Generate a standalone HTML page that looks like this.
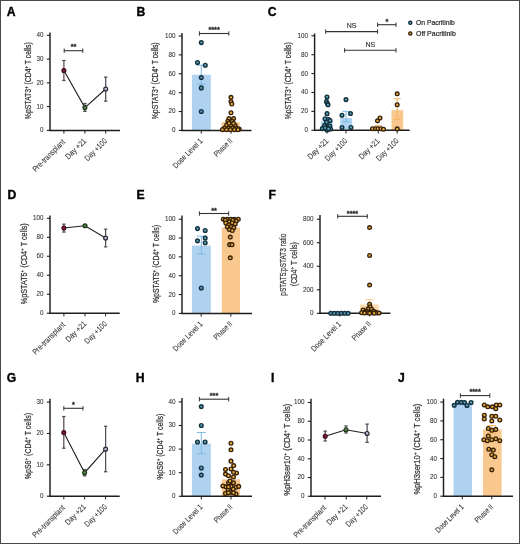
<!DOCTYPE html>
<html><head><meta charset="utf-8"><style>
html,body{margin:0;padding:0;background:#fff;}
svg{display:block;font-family:"Liberation Sans", sans-serif;will-change:transform;}
</style></head><body>
<svg width="520" height="544" viewBox="0 0 520 544">
<rect x="0.5" y="0.5" width="519" height="543" fill="#fff" stroke="#4a4a4a" stroke-width="1"/>
<text x="6.8" y="15.7" font-size="12.2" font-weight="bold" fill="#000" stroke="#000" stroke-width="0.35">A</text>
<text x="136.6" y="15.7" font-size="12.2" font-weight="bold" fill="#000" stroke="#000" stroke-width="0.35">B</text>
<text x="267.8" y="15.8" font-size="12.2" font-weight="bold" fill="#000" stroke="#000" stroke-width="0.35">C</text>
<text x="7.6" y="198.8" font-size="12.2" font-weight="bold" fill="#000" stroke="#000" stroke-width="0.35">D</text>
<text x="136.4" y="198.8" font-size="12.2" font-weight="bold" fill="#000" stroke="#000" stroke-width="0.35">E</text>
<text x="268.6" y="198.8" font-size="12.2" font-weight="bold" fill="#000" stroke="#000" stroke-width="0.35">F</text>
<text x="6.8" y="382" font-size="12.2" font-weight="bold" fill="#000" stroke="#000" stroke-width="0.35">G</text>
<text x="135.8" y="382" font-size="12.2" font-weight="bold" fill="#000" stroke="#000" stroke-width="0.35">H</text>
<text x="271.0" y="382" font-size="12.2" font-weight="bold" fill="#000" stroke="#000" stroke-width="0.35">I</text>
<text x="398.0" y="382" font-size="12.2" font-weight="bold" fill="#000" stroke="#000" stroke-width="0.35">J</text>
<line x1="46.80" y1="130.40" x2="50.00" y2="130.40" stroke="#1e1e1e" stroke-width="1.1" />
<text transform="translate(43.50,132.35) scale(0.80,1)" font-size="7.9" text-anchor="end" fill="#333333" stroke="#333" stroke-width="0.08">0</text>
<line x1="46.80" y1="106.62" x2="50.00" y2="106.62" stroke="#1e1e1e" stroke-width="1.1" />
<text transform="translate(43.50,108.58) scale(0.80,1)" font-size="7.9" text-anchor="end" fill="#333333" stroke="#333" stroke-width="0.08">10</text>
<line x1="46.80" y1="82.85" x2="50.00" y2="82.85" stroke="#1e1e1e" stroke-width="1.1" />
<text transform="translate(43.50,84.80) scale(0.80,1)" font-size="7.9" text-anchor="end" fill="#333333" stroke="#333" stroke-width="0.08">20</text>
<line x1="46.80" y1="59.07" x2="50.00" y2="59.07" stroke="#1e1e1e" stroke-width="1.1" />
<text transform="translate(43.50,61.02) scale(0.80,1)" font-size="7.9" text-anchor="end" fill="#333333" stroke="#333" stroke-width="0.08">30</text>
<line x1="46.80" y1="35.30" x2="50.00" y2="35.30" stroke="#1e1e1e" stroke-width="1.1" />
<text transform="translate(43.50,37.25) scale(0.80,1)" font-size="7.9" text-anchor="end" fill="#333333" stroke="#333" stroke-width="0.08">40</text>
<line x1="50.00" y1="32.50" x2="50.00" y2="131.00" stroke="#1e1e1e" stroke-width="1.45" />
<line x1="49.40" y1="130.40" x2="120.00" y2="130.40" stroke="#1e1e1e" stroke-width="1.45" />
<line x1="63.90" y1="130.40" x2="63.90" y2="133.60" stroke="#1e1e1e" stroke-width="1.0" />
<line x1="84.90" y1="130.40" x2="84.90" y2="133.60" stroke="#1e1e1e" stroke-width="1.0" />
<line x1="105.70" y1="130.40" x2="105.70" y2="133.60" stroke="#1e1e1e" stroke-width="1.0" />
<text transform="translate(31.20,80.70) rotate(-90) scale(0.8159,1)" font-size="8.4" text-anchor="middle" fill="#333333" stroke="#333" stroke-width="0.22">%pSTAT3<tspan dy="-2.8" font-size="5.4">+</tspan><tspan dy="2.8"> (CD4<tspan dy="-2.8" font-size="5.4">+</tspan><tspan dy="2.8"> T cells)</tspan></tspan></text>
<text transform="translate(65.50,142.50) rotate(-45) scale(0.840,1)" font-size="8.0" text-anchor="end" fill="#333333" stroke="#333" stroke-width="0.08">Pre-transplant</text>
<text transform="translate(86.80,141.50) rotate(-45) scale(0.862,1)" font-size="8.0" text-anchor="end" fill="#333333" stroke="#333" stroke-width="0.08">Day +21</text>
<text transform="translate(107.60,141.50) rotate(-45) scale(0.820,1)" font-size="8.0" text-anchor="end" fill="#333333" stroke="#333" stroke-width="0.08">Day +100</text>
<line x1="64.20" y1="50.70" x2="82.80" y2="50.70" stroke="#333" stroke-width="1.1" />
<line x1="64.20" y1="48.50" x2="64.20" y2="52.90" stroke="#333" stroke-width="1.0" />
<line x1="82.80" y1="48.50" x2="82.80" y2="52.90" stroke="#333" stroke-width="1.0" />
<text x="73.50" y="48.90"  font-size="7.3" text-anchor="middle" fill="#2a2a2a"  font-weight="bold" stroke="#2a2a2a" stroke-width="0.3">**</text>
<line x1="63.90" y1="80.47" x2="63.90" y2="60.50" stroke="#584a50" stroke-width="1.25" />
<line x1="62.20" y1="80.47" x2="65.60" y2="80.47" stroke="#584a50" stroke-width="1.25" />
<line x1="62.20" y1="60.50" x2="65.60" y2="60.50" stroke="#584a50" stroke-width="1.25" />
<line x1="84.90" y1="111.38" x2="84.90" y2="103.53" stroke="#4a504a" stroke-width="1.25" />
<line x1="83.20" y1="111.38" x2="86.60" y2="111.38" stroke="#4a504a" stroke-width="1.25" />
<line x1="83.20" y1="103.53" x2="86.60" y2="103.53" stroke="#4a504a" stroke-width="1.25" />
<line x1="105.70" y1="101.16" x2="105.70" y2="77.14" stroke="#4e4e56" stroke-width="1.25" />
<line x1="104.00" y1="101.16" x2="107.40" y2="101.16" stroke="#4e4e56" stroke-width="1.25" />
<line x1="104.00" y1="77.14" x2="107.40" y2="77.14" stroke="#4e4e56" stroke-width="1.25" />
<path d="M63.90,70.49 L84.90,107.58 L105.70,89.03" fill="none" stroke="#1e1e1e" stroke-width="1.1"/>
<circle cx="63.90" cy="70.49" r="1.95" fill="#80183a" stroke="#3c0c1c" stroke-width="1.2"/>
<circle cx="84.90" cy="107.58" r="1.95" fill="#558645" stroke="#1c321a" stroke-width="1.2"/>
<circle cx="105.70" cy="89.03" r="1.95" fill="#bcbccc" stroke="#262636" stroke-width="1.2"/>
<rect x="191.90" y="74.70" width="18.90" height="55.70" fill="#afd2f0"/>
<rect x="221.70" y="122.19" width="17.90" height="8.21" fill="#f9c88e"/>
<line x1="201.30" y1="84.14" x2="201.30" y2="65.26" stroke="#7ab8e4" stroke-width="1.0" />
<line x1="196.80" y1="84.14" x2="205.80" y2="84.14" stroke="#7ab8e4" stroke-width="1.0" />
<line x1="196.80" y1="65.26" x2="205.80" y2="65.26" stroke="#7ab8e4" stroke-width="1.0" />
<line x1="230.60" y1="125.21" x2="230.60" y2="119.07" stroke="#f4b260" stroke-width="1.0" />
<line x1="226.10" y1="125.21" x2="235.10" y2="125.21" stroke="#f4b260" stroke-width="1.0" />
<line x1="226.10" y1="119.07" x2="235.10" y2="119.07" stroke="#f4b260" stroke-width="1.0" />
<line x1="178.80" y1="130.40" x2="182.00" y2="130.40" stroke="#1e1e1e" stroke-width="1.1" />
<text transform="translate(175.50,132.35) scale(0.80,1)" font-size="7.9" text-anchor="end" fill="#333333" stroke="#333" stroke-width="0.08">0</text>
<line x1="178.80" y1="111.52" x2="182.00" y2="111.52" stroke="#1e1e1e" stroke-width="1.1" />
<text transform="translate(175.50,113.47) scale(0.80,1)" font-size="7.9" text-anchor="end" fill="#333333" stroke="#333" stroke-width="0.08">20</text>
<line x1="178.80" y1="92.64" x2="182.00" y2="92.64" stroke="#1e1e1e" stroke-width="1.1" />
<text transform="translate(175.50,94.59) scale(0.80,1)" font-size="7.9" text-anchor="end" fill="#333333" stroke="#333" stroke-width="0.08">40</text>
<line x1="178.80" y1="73.76" x2="182.00" y2="73.76" stroke="#1e1e1e" stroke-width="1.1" />
<text transform="translate(175.50,75.71) scale(0.80,1)" font-size="7.9" text-anchor="end" fill="#333333" stroke="#333" stroke-width="0.08">60</text>
<line x1="178.80" y1="54.88" x2="182.00" y2="54.88" stroke="#1e1e1e" stroke-width="1.1" />
<text transform="translate(175.50,56.83) scale(0.80,1)" font-size="7.9" text-anchor="end" fill="#333333" stroke="#333" stroke-width="0.08">80</text>
<line x1="178.80" y1="36.00" x2="182.00" y2="36.00" stroke="#1e1e1e" stroke-width="1.1" />
<text transform="translate(175.50,37.95) scale(0.80,1)" font-size="7.9" text-anchor="end" fill="#333333" stroke="#333" stroke-width="0.08">100</text>
<line x1="182.00" y1="33.00" x2="182.00" y2="131.00" stroke="#1e1e1e" stroke-width="1.45" />
<line x1="181.40" y1="130.40" x2="251.50" y2="130.40" stroke="#1e1e1e" stroke-width="1.45" />
<line x1="201.30" y1="130.40" x2="201.30" y2="133.60" stroke="#1e1e1e" stroke-width="1.0" />
<line x1="231.00" y1="130.40" x2="231.00" y2="133.60" stroke="#1e1e1e" stroke-width="1.0" />
<text transform="translate(158.00,80.80) rotate(-90) scale(0.8159,1)" font-size="8.4" text-anchor="middle" fill="#333333" stroke="#333" stroke-width="0.22">%pSTAT3<tspan dy="-2.8" font-size="5.4">+</tspan><tspan dy="2.8"> (CD4<tspan dy="-2.8" font-size="5.4">+</tspan><tspan dy="2.8"> T cells)</tspan></tspan></text>
<text transform="translate(203.20,141.50) rotate(-45) scale(0.823,1)" font-size="8.0" text-anchor="end" fill="#333333" stroke="#333" stroke-width="0.08">Dose Level 1</text>
<text transform="translate(232.90,141.50) rotate(-45) scale(0.765,1)" font-size="8.0" text-anchor="end" fill="#333333" stroke="#333" stroke-width="0.08">Phase II</text>
<line x1="199.40" y1="33.50" x2="228.80" y2="33.50" stroke="#333" stroke-width="1.1" />
<line x1="199.40" y1="31.30" x2="199.40" y2="35.70" stroke="#333" stroke-width="1.0" />
<line x1="228.80" y1="31.30" x2="228.80" y2="35.70" stroke="#333" stroke-width="1.0" />
<text x="214.10" y="32.40"  font-size="7.3" text-anchor="middle" fill="#2a2a2a"  font-weight="bold" stroke="#2a2a2a" stroke-width="0.3">****</text>
<circle cx="201.30" cy="42.61" r="1.85" fill="#5aa2bd" stroke="#14303c" stroke-width="1.4"/>
<circle cx="197.50" cy="62.43" r="1.85" fill="#5aa2bd" stroke="#14303c" stroke-width="1.4"/>
<circle cx="205.30" cy="65.26" r="1.85" fill="#5aa2bd" stroke="#14303c" stroke-width="1.4"/>
<circle cx="201.30" cy="77.54" r="1.85" fill="#5aa2bd" stroke="#14303c" stroke-width="1.4"/>
<circle cx="201.30" cy="87.92" r="1.85" fill="#5aa2bd" stroke="#14303c" stroke-width="1.4"/>
<circle cx="201.30" cy="111.52" r="1.85" fill="#5aa2bd" stroke="#14303c" stroke-width="1.4"/>
<circle cx="231.00" cy="97.36" r="1.85" fill="#e6ac3c" stroke="#35200a" stroke-width="1.35"/>
<circle cx="231.00" cy="101.61" r="1.85" fill="#e6ac3c" stroke="#35200a" stroke-width="1.35"/>
<circle cx="231.80" cy="103.97" r="1.85" fill="#e6ac3c" stroke="#35200a" stroke-width="1.35"/>
<circle cx="231.00" cy="112.75" r="1.85" fill="#e6ac3c" stroke="#35200a" stroke-width="1.35"/>
<circle cx="229.00" cy="118.60" r="1.85" fill="#e6ac3c" stroke="#35200a" stroke-width="1.35"/>
<circle cx="233.60" cy="118.60" r="1.85" fill="#e6ac3c" stroke="#35200a" stroke-width="1.35"/>
<circle cx="227.80" cy="121.34" r="1.85" fill="#e6ac3c" stroke="#35200a" stroke-width="1.35"/>
<circle cx="232.20" cy="121.34" r="1.85" fill="#e6ac3c" stroke="#35200a" stroke-width="1.35"/>
<circle cx="226.50" cy="125.21" r="1.85" fill="#e6ac3c" stroke="#35200a" stroke-width="1.35"/>
<circle cx="231.00" cy="125.21" r="1.85" fill="#e6ac3c" stroke="#35200a" stroke-width="1.35"/>
<circle cx="235.00" cy="125.21" r="1.85" fill="#e6ac3c" stroke="#35200a" stroke-width="1.35"/>
<circle cx="224.50" cy="128.04" r="1.85" fill="#e6ac3c" stroke="#35200a" stroke-width="1.35"/>
<circle cx="228.50" cy="128.04" r="1.85" fill="#e6ac3c" stroke="#35200a" stroke-width="1.35"/>
<circle cx="232.50" cy="128.04" r="1.85" fill="#e6ac3c" stroke="#35200a" stroke-width="1.35"/>
<circle cx="236.50" cy="128.04" r="1.85" fill="#e6ac3c" stroke="#35200a" stroke-width="1.35"/>
<circle cx="239.20" cy="128.98" r="1.85" fill="#e6ac3c" stroke="#35200a" stroke-width="1.35"/>
<circle cx="222.50" cy="129.64" r="1.85" fill="#e6ac3c" stroke="#35200a" stroke-width="1.35"/>
<circle cx="226.50" cy="129.64" r="1.85" fill="#e6ac3c" stroke="#35200a" stroke-width="1.35"/>
<circle cx="230.50" cy="129.64" r="1.85" fill="#e6ac3c" stroke="#35200a" stroke-width="1.35"/>
<circle cx="234.50" cy="129.64" r="1.85" fill="#e6ac3c" stroke="#35200a" stroke-width="1.35"/>
<circle cx="238.00" cy="129.64" r="1.85" fill="#e6ac3c" stroke="#35200a" stroke-width="1.35"/>
<circle cx="229.00" cy="123.32" r="1.85" fill="#e6ac3c" stroke="#35200a" stroke-width="1.35"/>
<circle cx="233.50" cy="123.32" r="1.85" fill="#e6ac3c" stroke="#35200a" stroke-width="1.35"/>
<rect x="321.00" y="121.32" width="11.60" height="8.98" fill="#afd2f0"/>
<rect x="340.30" y="118.02" width="11.80" height="12.28" fill="#afd2f0"/>
<rect x="372.00" y="127.47" width="12.50" height="2.83" fill="#f9c88e"/>
<rect x="391.50" y="110.17" width="11.70" height="20.13" fill="#f9c88e"/>
<line x1="346.00" y1="121.80" x2="346.00" y2="111.40" stroke="#7ab8e4" stroke-width="1.0" />
<line x1="342.50" y1="121.80" x2="349.50" y2="121.80" stroke="#7ab8e4" stroke-width="1.0" />
<line x1="342.50" y1="111.40" x2="349.50" y2="111.40" stroke="#7ab8e4" stroke-width="1.0" />
<line x1="327.00" y1="124.63" x2="327.00" y2="118.02" stroke="#7ab8e4" stroke-width="1.0" />
<line x1="323.50" y1="124.63" x2="330.50" y2="124.63" stroke="#7ab8e4" stroke-width="1.0" />
<line x1="323.50" y1="118.02" x2="330.50" y2="118.02" stroke="#7ab8e4" stroke-width="1.0" />
<line x1="397.20" y1="119.43" x2="397.20" y2="98.74" stroke="#f4b260" stroke-width="1.0" />
<line x1="393.70" y1="119.43" x2="400.70" y2="119.43" stroke="#f4b260" stroke-width="1.0" />
<line x1="393.70" y1="98.74" x2="400.70" y2="98.74" stroke="#f4b260" stroke-width="1.0" />
<line x1="378.30" y1="128.88" x2="378.30" y2="125.58" stroke="#f4b260" stroke-width="1.0" />
<line x1="374.80" y1="128.88" x2="381.80" y2="128.88" stroke="#f4b260" stroke-width="1.0" />
<line x1="374.80" y1="125.58" x2="381.80" y2="125.58" stroke="#f4b260" stroke-width="1.0" />
<line x1="311.40" y1="130.30" x2="314.60" y2="130.30" stroke="#1e1e1e" stroke-width="1.1" />
<text transform="translate(308.10,132.25) scale(0.80,1)" font-size="7.9" text-anchor="end" fill="#333333" stroke="#333" stroke-width="0.08">0</text>
<line x1="311.40" y1="111.40" x2="314.60" y2="111.40" stroke="#1e1e1e" stroke-width="1.1" />
<text transform="translate(308.10,113.35) scale(0.80,1)" font-size="7.9" text-anchor="end" fill="#333333" stroke="#333" stroke-width="0.08">20</text>
<line x1="311.40" y1="92.50" x2="314.60" y2="92.50" stroke="#1e1e1e" stroke-width="1.1" />
<text transform="translate(308.10,94.45) scale(0.80,1)" font-size="7.9" text-anchor="end" fill="#333333" stroke="#333" stroke-width="0.08">40</text>
<line x1="311.40" y1="73.60" x2="314.60" y2="73.60" stroke="#1e1e1e" stroke-width="1.1" />
<text transform="translate(308.10,75.55) scale(0.80,1)" font-size="7.9" text-anchor="end" fill="#333333" stroke="#333" stroke-width="0.08">60</text>
<line x1="311.40" y1="54.70" x2="314.60" y2="54.70" stroke="#1e1e1e" stroke-width="1.1" />
<text transform="translate(308.10,56.65) scale(0.80,1)" font-size="7.9" text-anchor="end" fill="#333333" stroke="#333" stroke-width="0.08">80</text>
<line x1="311.40" y1="35.80" x2="314.60" y2="35.80" stroke="#1e1e1e" stroke-width="1.1" />
<text transform="translate(308.10,37.75) scale(0.80,1)" font-size="7.9" text-anchor="end" fill="#333333" stroke="#333" stroke-width="0.08">100</text>
<line x1="314.60" y1="33.50" x2="314.60" y2="130.90" stroke="#1e1e1e" stroke-width="1.45" />
<line x1="314.00" y1="130.30" x2="409.70" y2="130.30" stroke="#1e1e1e" stroke-width="1.45" />
<line x1="327.00" y1="130.30" x2="327.00" y2="133.50" stroke="#1e1e1e" stroke-width="1.0" />
<line x1="346.00" y1="130.30" x2="346.00" y2="133.50" stroke="#1e1e1e" stroke-width="1.0" />
<line x1="378.30" y1="130.30" x2="378.30" y2="133.50" stroke="#1e1e1e" stroke-width="1.0" />
<line x1="397.20" y1="130.30" x2="397.20" y2="133.50" stroke="#1e1e1e" stroke-width="1.0" />
<text transform="translate(291.00,80.80) rotate(-90) scale(0.8191,1)" font-size="8.4" text-anchor="middle" fill="#333333" stroke="#333" stroke-width="0.22">%pSTAT3<tspan dy="-2.8" font-size="5.4">+</tspan><tspan dy="2.8"> (CD4<tspan dy="-2.8" font-size="5.4">+</tspan><tspan dy="2.8"> T cells)</tspan></tspan></text>
<text transform="translate(328.90,141.50) rotate(-45) scale(0.862,1)" font-size="8.0" text-anchor="end" fill="#333333" stroke="#333" stroke-width="0.08">Day +21</text>
<text transform="translate(347.90,141.50) rotate(-45) scale(0.820,1)" font-size="8.0" text-anchor="end" fill="#333333" stroke="#333" stroke-width="0.08">Day +100</text>
<text transform="translate(380.20,141.50) rotate(-45) scale(0.862,1)" font-size="8.0" text-anchor="end" fill="#333333" stroke="#333" stroke-width="0.08">Day +21</text>
<text transform="translate(399.10,141.50) rotate(-45) scale(0.820,1)" font-size="8.0" text-anchor="end" fill="#333333" stroke="#333" stroke-width="0.08">Day +100</text>
<line x1="325.70" y1="31.60" x2="377.60" y2="31.60" stroke="#333" stroke-width="1.1" />
<line x1="325.70" y1="29.40" x2="325.70" y2="33.80" stroke="#333" stroke-width="1.0" />
<line x1="377.60" y1="29.40" x2="377.60" y2="33.80" stroke="#333" stroke-width="1.0" />
<text x="351.65" y="28.00"  font-size="7" text-anchor="middle" fill="#333"   stroke="#333" stroke-width="0.15">NS</text>
<line x1="377.60" y1="24.70" x2="396.00" y2="24.70" stroke="#333" stroke-width="1.1" />
<line x1="377.60" y1="22.50" x2="377.60" y2="26.90" stroke="#333" stroke-width="1.0" />
<line x1="396.00" y1="22.50" x2="396.00" y2="26.90" stroke="#333" stroke-width="1.0" />
<text x="386.80" y="23.90"  font-size="7.3" text-anchor="middle" fill="#2a2a2a"  font-weight="bold" stroke="#2a2a2a" stroke-width="0.3">*</text>
<line x1="344.60" y1="50.30" x2="396.00" y2="50.30" stroke="#333" stroke-width="1.1" />
<line x1="344.60" y1="48.10" x2="344.60" y2="52.50" stroke="#333" stroke-width="1.0" />
<line x1="396.00" y1="48.10" x2="396.00" y2="52.50" stroke="#333" stroke-width="1.0" />
<text x="370.30" y="46.50"  font-size="7" text-anchor="middle" fill="#333"   stroke="#333" stroke-width="0.15">NS</text>
<circle cx="327.00" cy="96.94" r="1.85" fill="#5aa2bd" stroke="#14303c" stroke-width="1.4"/>
<circle cx="326.50" cy="101.67" r="1.85" fill="#5aa2bd" stroke="#14303c" stroke-width="1.4"/>
<circle cx="327.50" cy="103.46" r="1.85" fill="#5aa2bd" stroke="#14303c" stroke-width="1.4"/>
<circle cx="328.00" cy="104.79" r="1.85" fill="#5aa2bd" stroke="#14303c" stroke-width="1.4"/>
<circle cx="327.00" cy="113.67" r="1.85" fill="#5aa2bd" stroke="#14303c" stroke-width="1.4"/>
<circle cx="325.00" cy="118.77" r="1.85" fill="#5aa2bd" stroke="#14303c" stroke-width="1.4"/>
<circle cx="328.50" cy="119.43" r="1.85" fill="#5aa2bd" stroke="#14303c" stroke-width="1.4"/>
<circle cx="330.00" cy="120.66" r="1.85" fill="#5aa2bd" stroke="#14303c" stroke-width="1.4"/>
<circle cx="326.50" cy="122.27" r="1.85" fill="#5aa2bd" stroke="#14303c" stroke-width="1.4"/>
<circle cx="324.50" cy="125.58" r="1.85" fill="#5aa2bd" stroke="#14303c" stroke-width="1.4"/>
<circle cx="327.00" cy="127.09" r="1.85" fill="#5aa2bd" stroke="#14303c" stroke-width="1.4"/>
<circle cx="329.80" cy="126.05" r="1.85" fill="#5aa2bd" stroke="#14303c" stroke-width="1.4"/>
<circle cx="322.30" cy="128.60" r="1.85" fill="#5aa2bd" stroke="#14303c" stroke-width="1.4"/>
<circle cx="330.60" cy="128.98" r="1.85" fill="#5aa2bd" stroke="#14303c" stroke-width="1.4"/>
<circle cx="327.00" cy="130.02" r="1.85" fill="#5aa2bd" stroke="#14303c" stroke-width="1.4"/>
<circle cx="325.20" cy="127.94" r="1.85" fill="#5aa2bd" stroke="#14303c" stroke-width="1.4"/>
<circle cx="328.50" cy="128.88" r="1.85" fill="#5aa2bd" stroke="#14303c" stroke-width="1.4"/>
<circle cx="346.00" cy="99.59" r="1.85" fill="#5aa2bd" stroke="#14303c" stroke-width="1.4"/>
<circle cx="342.00" cy="115.18" r="1.85" fill="#5aa2bd" stroke="#14303c" stroke-width="1.4"/>
<circle cx="350.50" cy="113.57" r="1.85" fill="#5aa2bd" stroke="#14303c" stroke-width="1.4"/>
<circle cx="342.00" cy="127.47" r="1.85" fill="#5aa2bd" stroke="#14303c" stroke-width="1.4"/>
<circle cx="351.00" cy="127.47" r="1.85" fill="#5aa2bd" stroke="#14303c" stroke-width="1.4"/>
<circle cx="380.00" cy="118.02" r="1.85" fill="#e6ac3c" stroke="#35200a" stroke-width="1.35"/>
<circle cx="377.50" cy="120.85" r="1.85" fill="#e6ac3c" stroke="#35200a" stroke-width="1.35"/>
<circle cx="372.50" cy="128.69" r="1.85" fill="#e6ac3c" stroke="#35200a" stroke-width="1.35"/>
<circle cx="375.50" cy="128.69" r="1.85" fill="#e6ac3c" stroke="#35200a" stroke-width="1.35"/>
<circle cx="378.00" cy="128.69" r="1.85" fill="#e6ac3c" stroke="#35200a" stroke-width="1.35"/>
<circle cx="381.00" cy="128.69" r="1.85" fill="#e6ac3c" stroke="#35200a" stroke-width="1.35"/>
<circle cx="383.50" cy="129.17" r="1.85" fill="#e6ac3c" stroke="#35200a" stroke-width="1.35"/>
<circle cx="397.20" cy="93.82" r="1.85" fill="#e6ac3c" stroke="#35200a" stroke-width="1.35"/>
<circle cx="397.20" cy="104.79" r="1.85" fill="#e6ac3c" stroke="#35200a" stroke-width="1.35"/>
<circle cx="397.20" cy="128.88" r="1.85" fill="#e6ac3c" stroke="#35200a" stroke-width="1.35"/>
<circle cx="410.30" cy="22.80" r="1.55" fill="#5aa2bd" stroke="#14303c" stroke-width="1.4"/>
<circle cx="410.30" cy="33.40" r="1.55" fill="#e6ac3c" stroke="#35200a" stroke-width="1.4"/>
<text x="416.00" y="25.30"  font-size="7.4" text-anchor="start" fill="#262626" textLength="38.8" lengthAdjust="spacingAndGlyphs"  stroke="#262626" stroke-width="0.2">On Pacritinib</text>
<text x="416.00" y="35.60"  font-size="7.4" text-anchor="start" fill="#262626" textLength="39.8" lengthAdjust="spacingAndGlyphs"  stroke="#262626" stroke-width="0.2">Off Pacritinib</text>
<line x1="46.80" y1="313.20" x2="50.00" y2="313.20" stroke="#1e1e1e" stroke-width="1.1" />
<text transform="translate(43.50,315.15) scale(0.80,1)" font-size="7.9" text-anchor="end" fill="#333333" stroke="#333" stroke-width="0.08">0</text>
<line x1="46.80" y1="294.22" x2="50.00" y2="294.22" stroke="#1e1e1e" stroke-width="1.1" />
<text transform="translate(43.50,296.17) scale(0.80,1)" font-size="7.9" text-anchor="end" fill="#333333" stroke="#333" stroke-width="0.08">20</text>
<line x1="46.80" y1="275.24" x2="50.00" y2="275.24" stroke="#1e1e1e" stroke-width="1.1" />
<text transform="translate(43.50,277.19) scale(0.80,1)" font-size="7.9" text-anchor="end" fill="#333333" stroke="#333" stroke-width="0.08">40</text>
<line x1="46.80" y1="256.26" x2="50.00" y2="256.26" stroke="#1e1e1e" stroke-width="1.1" />
<text transform="translate(43.50,258.21) scale(0.80,1)" font-size="7.9" text-anchor="end" fill="#333333" stroke="#333" stroke-width="0.08">60</text>
<line x1="46.80" y1="237.28" x2="50.00" y2="237.28" stroke="#1e1e1e" stroke-width="1.1" />
<text transform="translate(43.50,239.23) scale(0.80,1)" font-size="7.9" text-anchor="end" fill="#333333" stroke="#333" stroke-width="0.08">80</text>
<line x1="46.80" y1="218.30" x2="50.00" y2="218.30" stroke="#1e1e1e" stroke-width="1.1" />
<text transform="translate(43.50,220.25) scale(0.80,1)" font-size="7.9" text-anchor="end" fill="#333333" stroke="#333" stroke-width="0.08">100</text>
<line x1="50.00" y1="215.40" x2="50.00" y2="313.80" stroke="#1e1e1e" stroke-width="1.45" />
<line x1="49.40" y1="313.20" x2="119.70" y2="313.20" stroke="#1e1e1e" stroke-width="1.45" />
<line x1="63.90" y1="313.20" x2="63.90" y2="316.40" stroke="#1e1e1e" stroke-width="1.0" />
<line x1="85.00" y1="313.20" x2="85.00" y2="316.40" stroke="#1e1e1e" stroke-width="1.0" />
<line x1="105.60" y1="313.20" x2="105.60" y2="316.40" stroke="#1e1e1e" stroke-width="1.0" />
<text transform="translate(26.50,263.70) rotate(-90) scale(0.8583,1)" font-size="8.4" text-anchor="middle" fill="#333333" stroke="#333" stroke-width="0.22">%pSTAT5<tspan dy="-2.8" font-size="5.4">+</tspan><tspan dy="2.8"> (CD4<tspan dy="-2.8" font-size="5.4">+</tspan><tspan dy="2.8"> T cells)</tspan></tspan></text>
<text transform="translate(65.50,325.30) rotate(-45) scale(0.840,1)" font-size="8.0" text-anchor="end" fill="#333333" stroke="#333" stroke-width="0.08">Pre-transplant</text>
<text transform="translate(86.90,324.30) rotate(-45) scale(0.862,1)" font-size="8.0" text-anchor="end" fill="#333333" stroke="#333" stroke-width="0.08">Day +21</text>
<text transform="translate(107.50,324.30) rotate(-45) scale(0.820,1)" font-size="8.0" text-anchor="end" fill="#333333" stroke="#333" stroke-width="0.08">Day +100</text>
<line x1="63.90" y1="232.06" x2="63.90" y2="224.18" stroke="#584a50" stroke-width="1.25" />
<line x1="62.20" y1="232.06" x2="65.60" y2="232.06" stroke="#584a50" stroke-width="1.25" />
<line x1="62.20" y1="224.18" x2="65.60" y2="224.18" stroke="#584a50" stroke-width="1.25" />
<line x1="85.00" y1="226.84" x2="85.00" y2="224.75" stroke="#4a504a" stroke-width="1.25" />
<line x1="83.30" y1="226.84" x2="86.70" y2="226.84" stroke="#4a504a" stroke-width="1.25" />
<line x1="83.30" y1="224.75" x2="86.70" y2="224.75" stroke="#4a504a" stroke-width="1.25" />
<line x1="105.60" y1="246.86" x2="105.60" y2="229.21" stroke="#4e4e56" stroke-width="1.25" />
<line x1="103.90" y1="246.86" x2="107.30" y2="246.86" stroke="#4e4e56" stroke-width="1.25" />
<line x1="103.90" y1="229.21" x2="107.30" y2="229.21" stroke="#4e4e56" stroke-width="1.25" />
<path d="M63.90,228.07 L85.00,225.80 L105.60,238.04" fill="none" stroke="#1e1e1e" stroke-width="1.1"/>
<circle cx="63.90" cy="228.07" r="1.95" fill="#80183a" stroke="#3c0c1c" stroke-width="1.2"/>
<circle cx="85.00" cy="225.80" r="1.95" fill="#558645" stroke="#1c321a" stroke-width="1.2"/>
<circle cx="105.60" cy="238.04" r="1.95" fill="#bcbccc" stroke="#262636" stroke-width="1.2"/>
<rect x="191.90" y="245.58" width="18.90" height="67.82" fill="#afd2f0"/>
<rect x="221.80" y="227.40" width="18.20" height="86.00" fill="#f9c88e"/>
<line x1="201.30" y1="254.05" x2="201.30" y2="236.16" stroke="#7ab8e4" stroke-width="1.0" />
<line x1="196.80" y1="254.05" x2="205.80" y2="254.05" stroke="#7ab8e4" stroke-width="1.0" />
<line x1="196.80" y1="236.16" x2="205.80" y2="236.16" stroke="#7ab8e4" stroke-width="1.0" />
<line x1="230.80" y1="229.56" x2="230.80" y2="224.85" stroke="#f4b260" stroke-width="1.0" />
<line x1="226.30" y1="229.56" x2="235.30" y2="229.56" stroke="#f4b260" stroke-width="1.0" />
<line x1="226.30" y1="224.85" x2="235.30" y2="224.85" stroke="#f4b260" stroke-width="1.0" />
<line x1="178.80" y1="313.40" x2="182.00" y2="313.40" stroke="#1e1e1e" stroke-width="1.1" />
<text transform="translate(175.50,315.35) scale(0.80,1)" font-size="7.9" text-anchor="end" fill="#333333" stroke="#333" stroke-width="0.08">0</text>
<line x1="178.80" y1="294.56" x2="182.00" y2="294.56" stroke="#1e1e1e" stroke-width="1.1" />
<text transform="translate(175.50,296.51) scale(0.80,1)" font-size="7.9" text-anchor="end" fill="#333333" stroke="#333" stroke-width="0.08">20</text>
<line x1="178.80" y1="275.72" x2="182.00" y2="275.72" stroke="#1e1e1e" stroke-width="1.1" />
<text transform="translate(175.50,277.67) scale(0.80,1)" font-size="7.9" text-anchor="end" fill="#333333" stroke="#333" stroke-width="0.08">40</text>
<line x1="178.80" y1="256.88" x2="182.00" y2="256.88" stroke="#1e1e1e" stroke-width="1.1" />
<text transform="translate(175.50,258.83) scale(0.80,1)" font-size="7.9" text-anchor="end" fill="#333333" stroke="#333" stroke-width="0.08">60</text>
<line x1="178.80" y1="238.04" x2="182.00" y2="238.04" stroke="#1e1e1e" stroke-width="1.1" />
<text transform="translate(175.50,239.99) scale(0.80,1)" font-size="7.9" text-anchor="end" fill="#333333" stroke="#333" stroke-width="0.08">80</text>
<line x1="178.80" y1="219.20" x2="182.00" y2="219.20" stroke="#1e1e1e" stroke-width="1.1" />
<text transform="translate(175.50,221.15) scale(0.80,1)" font-size="7.9" text-anchor="end" fill="#333333" stroke="#333" stroke-width="0.08">100</text>
<line x1="182.00" y1="215.40" x2="182.00" y2="314.00" stroke="#1e1e1e" stroke-width="1.45" />
<line x1="181.40" y1="313.40" x2="252.00" y2="313.40" stroke="#1e1e1e" stroke-width="1.45" />
<line x1="201.20" y1="313.40" x2="201.20" y2="316.60" stroke="#1e1e1e" stroke-width="1.0" />
<line x1="230.80" y1="313.40" x2="230.80" y2="316.60" stroke="#1e1e1e" stroke-width="1.0" />
<text transform="translate(159.20,264.00) rotate(-90) scale(0.8297,1)" font-size="8.4" text-anchor="middle" fill="#333333" stroke="#333" stroke-width="0.22">%pSTAT5<tspan dy="-2.8" font-size="5.4">+</tspan><tspan dy="2.8"> (CD4<tspan dy="-2.8" font-size="5.4">+</tspan><tspan dy="2.8"> T cells)</tspan></tspan></text>
<text transform="translate(203.20,324.50) rotate(-45) scale(0.823,1)" font-size="8.0" text-anchor="end" fill="#333333" stroke="#333" stroke-width="0.08">Dose Level 1</text>
<text transform="translate(232.70,324.50) rotate(-45) scale(0.765,1)" font-size="8.0" text-anchor="end" fill="#333333" stroke="#333" stroke-width="0.08">Phase II</text>
<line x1="199.40" y1="213.50" x2="228.70" y2="213.50" stroke="#333" stroke-width="1.1" />
<line x1="199.40" y1="211.30" x2="199.40" y2="215.70" stroke="#333" stroke-width="1.0" />
<line x1="228.70" y1="211.30" x2="228.70" y2="215.70" stroke="#333" stroke-width="1.0" />
<text x="214.05" y="212.60"  font-size="7.3" text-anchor="middle" fill="#2a2a2a"  font-weight="bold" stroke="#2a2a2a" stroke-width="0.3">**</text>
<circle cx="197.50" cy="228.62" r="1.85" fill="#5aa2bd" stroke="#14303c" stroke-width="1.4"/>
<circle cx="205.20" cy="230.50" r="1.85" fill="#5aa2bd" stroke="#14303c" stroke-width="1.4"/>
<circle cx="205.20" cy="238.04" r="1.85" fill="#5aa2bd" stroke="#14303c" stroke-width="1.4"/>
<circle cx="197.50" cy="240.87" r="1.85" fill="#5aa2bd" stroke="#14303c" stroke-width="1.4"/>
<circle cx="205.20" cy="242.75" r="1.85" fill="#5aa2bd" stroke="#14303c" stroke-width="1.4"/>
<circle cx="201.30" cy="287.97" r="1.85" fill="#5aa2bd" stroke="#14303c" stroke-width="1.4"/>
<circle cx="223.30" cy="219.20" r="1.85" fill="#e6ac3c" stroke="#35200a" stroke-width="1.35"/>
<circle cx="227.30" cy="219.20" r="1.85" fill="#e6ac3c" stroke="#35200a" stroke-width="1.35"/>
<circle cx="230.80" cy="219.20" r="1.85" fill="#e6ac3c" stroke="#35200a" stroke-width="1.35"/>
<circle cx="234.30" cy="219.20" r="1.85" fill="#e6ac3c" stroke="#35200a" stroke-width="1.35"/>
<circle cx="238.30" cy="219.20" r="1.85" fill="#e6ac3c" stroke="#35200a" stroke-width="1.35"/>
<circle cx="225.30" cy="220.14" r="1.85" fill="#e6ac3c" stroke="#35200a" stroke-width="1.35"/>
<circle cx="232.80" cy="220.14" r="1.85" fill="#e6ac3c" stroke="#35200a" stroke-width="1.35"/>
<circle cx="236.30" cy="221.08" r="1.85" fill="#e6ac3c" stroke="#35200a" stroke-width="1.35"/>
<circle cx="229.30" cy="222.03" r="1.85" fill="#e6ac3c" stroke="#35200a" stroke-width="1.35"/>
<circle cx="225.80" cy="222.97" r="1.85" fill="#e6ac3c" stroke="#35200a" stroke-width="1.35"/>
<circle cx="232.30" cy="222.97" r="1.85" fill="#e6ac3c" stroke="#35200a" stroke-width="1.35"/>
<circle cx="235.30" cy="223.91" r="1.85" fill="#e6ac3c" stroke="#35200a" stroke-width="1.35"/>
<circle cx="228.80" cy="224.85" r="1.85" fill="#e6ac3c" stroke="#35200a" stroke-width="1.35"/>
<circle cx="227.30" cy="226.74" r="1.85" fill="#e6ac3c" stroke="#35200a" stroke-width="1.35"/>
<circle cx="231.30" cy="226.74" r="1.85" fill="#e6ac3c" stroke="#35200a" stroke-width="1.35"/>
<circle cx="233.80" cy="227.68" r="1.85" fill="#e6ac3c" stroke="#35200a" stroke-width="1.35"/>
<circle cx="229.30" cy="229.56" r="1.85" fill="#e6ac3c" stroke="#35200a" stroke-width="1.35"/>
<circle cx="232.30" cy="230.50" r="1.85" fill="#e6ac3c" stroke="#35200a" stroke-width="1.35"/>
<circle cx="230.30" cy="237.10" r="1.85" fill="#e6ac3c" stroke="#35200a" stroke-width="1.35"/>
<circle cx="229.60" cy="244.63" r="1.85" fill="#e6ac3c" stroke="#35200a" stroke-width="1.35"/>
<circle cx="232.00" cy="244.63" r="1.85" fill="#e6ac3c" stroke="#35200a" stroke-width="1.35"/>
<circle cx="230.30" cy="257.82" r="1.85" fill="#e6ac3c" stroke="#35200a" stroke-width="1.35"/>
<rect x="360.00" y="304.48" width="18.80" height="8.82" fill="#fbdab0"/>
<line x1="369.60" y1="309.18" x2="369.60" y2="299.77" stroke="#f6c890" stroke-width="1.0" />
<line x1="365.10" y1="309.18" x2="374.10" y2="309.18" stroke="#f6c890" stroke-width="1.0" />
<line x1="365.10" y1="299.77" x2="374.10" y2="299.77" stroke="#f6c890" stroke-width="1.0" />
<line x1="316.80" y1="313.30" x2="320.00" y2="313.30" stroke="#1e1e1e" stroke-width="1.1" />
<text transform="translate(313.50,315.25) scale(0.80,1)" font-size="7.9" text-anchor="end" fill="#333333" stroke="#333" stroke-width="0.08">0</text>
<line x1="316.80" y1="289.77" x2="320.00" y2="289.77" stroke="#1e1e1e" stroke-width="1.1" />
<text transform="translate(313.50,291.72) scale(0.80,1)" font-size="7.9" text-anchor="end" fill="#333333" stroke="#333" stroke-width="0.08">200</text>
<line x1="316.80" y1="266.25" x2="320.00" y2="266.25" stroke="#1e1e1e" stroke-width="1.1" />
<text transform="translate(313.50,268.20) scale(0.80,1)" font-size="7.9" text-anchor="end" fill="#333333" stroke="#333" stroke-width="0.08">400</text>
<line x1="316.80" y1="242.72" x2="320.00" y2="242.72" stroke="#1e1e1e" stroke-width="1.1" />
<text transform="translate(313.50,244.67) scale(0.80,1)" font-size="7.9" text-anchor="end" fill="#333333" stroke="#333" stroke-width="0.08">600</text>
<line x1="316.80" y1="219.20" x2="320.00" y2="219.20" stroke="#1e1e1e" stroke-width="1.1" />
<text transform="translate(313.50,221.15) scale(0.80,1)" font-size="7.9" text-anchor="end" fill="#333333" stroke="#333" stroke-width="0.08">800</text>
<line x1="320.00" y1="215.00" x2="320.00" y2="313.90" stroke="#1e1e1e" stroke-width="1.45" />
<line x1="319.40" y1="313.30" x2="390.40" y2="313.30" stroke="#1e1e1e" stroke-width="1.45" />
<line x1="339.80" y1="313.30" x2="339.80" y2="316.50" stroke="#1e1e1e" stroke-width="1.0" />
<line x1="369.60" y1="313.30" x2="369.60" y2="316.50" stroke="#1e1e1e" stroke-width="1.0" />
<text transform="translate(285.90,264.60) rotate(-90) scale(0.7762,1)" font-size="8.4" text-anchor="middle" fill="#333333" stroke="#333" stroke-width="0.22">pSTAT5:pSTAT3 ratio</text>
<text transform="translate(296.90,264.10) rotate(-90) scale(0.8525,1)" font-size="8.4" text-anchor="middle" fill="#333333" stroke="#333" stroke-width="0.22">(CD4<tspan dy="-2.8" font-size="5.4">+</tspan><tspan dy="2.8"> T cells)</tspan></text>
<text transform="translate(341.70,324.50) rotate(-45) scale(0.834,1)" font-size="8.0" text-anchor="end" fill="#333333" stroke="#333" stroke-width="0.08">Dose Level 1</text>
<text transform="translate(371.50,324.50) rotate(-45) scale(0.800,1)" font-size="8.0" text-anchor="end" fill="#333333" stroke="#333" stroke-width="0.08">Phase II</text>
<line x1="337.70" y1="216.30" x2="367.30" y2="216.30" stroke="#333" stroke-width="1.1" />
<line x1="337.70" y1="214.10" x2="337.70" y2="218.50" stroke="#333" stroke-width="1.0" />
<line x1="367.30" y1="214.10" x2="367.30" y2="218.50" stroke="#333" stroke-width="1.0" />
<text x="352.50" y="215.90"  font-size="7.3" text-anchor="middle" fill="#2a2a2a"  font-weight="bold" stroke="#2a2a2a" stroke-width="0.3">****</text>
<circle cx="330.80" cy="313.30" r="1.85" fill="#5aa2bd" stroke="#14303c" stroke-width="1.4"/>
<circle cx="334.30" cy="313.30" r="1.85" fill="#5aa2bd" stroke="#14303c" stroke-width="1.4"/>
<circle cx="337.80" cy="313.30" r="1.85" fill="#5aa2bd" stroke="#14303c" stroke-width="1.4"/>
<circle cx="341.30" cy="313.30" r="1.85" fill="#5aa2bd" stroke="#14303c" stroke-width="1.4"/>
<circle cx="344.80" cy="313.30" r="1.85" fill="#5aa2bd" stroke="#14303c" stroke-width="1.4"/>
<circle cx="348.10" cy="313.30" r="1.85" fill="#5aa2bd" stroke="#14303c" stroke-width="1.4"/>
<circle cx="369.60" cy="227.55" r="1.85" fill="#e6ac3c" stroke="#35200a" stroke-width="1.35"/>
<circle cx="369.60" cy="255.43" r="1.85" fill="#e6ac3c" stroke="#35200a" stroke-width="1.35"/>
<circle cx="369.60" cy="285.07" r="1.85" fill="#e6ac3c" stroke="#35200a" stroke-width="1.35"/>
<circle cx="369.60" cy="304.24" r="1.85" fill="#e6ac3c" stroke="#35200a" stroke-width="1.35"/>
<circle cx="370.10" cy="306.95" r="1.85" fill="#e6ac3c" stroke="#35200a" stroke-width="1.35"/>
<circle cx="368.10" cy="308.83" r="1.85" fill="#e6ac3c" stroke="#35200a" stroke-width="1.35"/>
<circle cx="371.60" cy="309.18" r="1.85" fill="#e6ac3c" stroke="#35200a" stroke-width="1.35"/>
<circle cx="363.10" cy="310.01" r="1.85" fill="#e6ac3c" stroke="#35200a" stroke-width="1.35"/>
<circle cx="366.60" cy="310.95" r="1.85" fill="#e6ac3c" stroke="#35200a" stroke-width="1.35"/>
<circle cx="373.60" cy="311.18" r="1.85" fill="#e6ac3c" stroke="#35200a" stroke-width="1.35"/>
<circle cx="364.60" cy="312.12" r="1.85" fill="#e6ac3c" stroke="#35200a" stroke-width="1.35"/>
<circle cx="369.60" cy="312.12" r="1.85" fill="#e6ac3c" stroke="#35200a" stroke-width="1.35"/>
<circle cx="375.60" cy="312.36" r="1.85" fill="#e6ac3c" stroke="#35200a" stroke-width="1.35"/>
<circle cx="361.60" cy="312.71" r="1.85" fill="#e6ac3c" stroke="#35200a" stroke-width="1.35"/>
<circle cx="367.10" cy="312.83" r="1.85" fill="#e6ac3c" stroke="#35200a" stroke-width="1.35"/>
<circle cx="372.10" cy="312.83" r="1.85" fill="#e6ac3c" stroke="#35200a" stroke-width="1.35"/>
<circle cx="377.10" cy="312.95" r="1.85" fill="#e6ac3c" stroke="#35200a" stroke-width="1.35"/>
<circle cx="364.60" cy="313.06" r="1.85" fill="#e6ac3c" stroke="#35200a" stroke-width="1.35"/>
<circle cx="369.60" cy="313.18" r="1.85" fill="#e6ac3c" stroke="#35200a" stroke-width="1.35"/>
<circle cx="374.10" cy="313.18" r="1.85" fill="#e6ac3c" stroke="#35200a" stroke-width="1.35"/>
<circle cx="379.10" cy="313.06" r="1.85" fill="#e6ac3c" stroke="#35200a" stroke-width="1.35"/>
<line x1="46.80" y1="496.20" x2="50.00" y2="496.20" stroke="#1e1e1e" stroke-width="1.1" />
<text transform="translate(43.50,498.15) scale(0.80,1)" font-size="7.9" text-anchor="end" fill="#333333" stroke="#333" stroke-width="0.08">0</text>
<line x1="46.80" y1="464.83" x2="50.00" y2="464.83" stroke="#1e1e1e" stroke-width="1.1" />
<text transform="translate(43.50,466.78) scale(0.80,1)" font-size="7.9" text-anchor="end" fill="#333333" stroke="#333" stroke-width="0.08">10</text>
<line x1="46.80" y1="433.47" x2="50.00" y2="433.47" stroke="#1e1e1e" stroke-width="1.1" />
<text transform="translate(43.50,435.42) scale(0.80,1)" font-size="7.9" text-anchor="end" fill="#333333" stroke="#333" stroke-width="0.08">20</text>
<line x1="46.80" y1="402.10" x2="50.00" y2="402.10" stroke="#1e1e1e" stroke-width="1.1" />
<text transform="translate(43.50,404.05) scale(0.80,1)" font-size="7.9" text-anchor="end" fill="#333333" stroke="#333" stroke-width="0.08">30</text>
<line x1="50.00" y1="398.70" x2="50.00" y2="496.80" stroke="#1e1e1e" stroke-width="1.45" />
<line x1="49.40" y1="496.20" x2="119.70" y2="496.20" stroke="#1e1e1e" stroke-width="1.45" />
<line x1="63.80" y1="496.20" x2="63.80" y2="499.40" stroke="#1e1e1e" stroke-width="1.0" />
<line x1="84.60" y1="496.20" x2="84.60" y2="499.40" stroke="#1e1e1e" stroke-width="1.0" />
<line x1="105.60" y1="496.20" x2="105.60" y2="499.40" stroke="#1e1e1e" stroke-width="1.0" />
<text transform="translate(30.50,446.00) rotate(-90) scale(0.8326,1)" font-size="8.4" text-anchor="middle" fill="#333333" stroke="#333" stroke-width="0.22">%pS6<tspan dy="-2.8" font-size="5.4">+</tspan><tspan dy="2.8"> (CD4<tspan dy="-2.8" font-size="5.4">+</tspan><tspan dy="2.8"> T cells)</tspan></tspan></text>
<text transform="translate(65.40,508.30) rotate(-45) scale(0.840,1)" font-size="8.0" text-anchor="end" fill="#333333" stroke="#333" stroke-width="0.08">Pre-transplant</text>
<text transform="translate(86.50,507.30) rotate(-45) scale(0.862,1)" font-size="8.0" text-anchor="end" fill="#333333" stroke="#333" stroke-width="0.08">Day +21</text>
<text transform="translate(107.50,507.30) rotate(-45) scale(0.820,1)" font-size="8.0" text-anchor="end" fill="#333333" stroke="#333" stroke-width="0.08">Day +100</text>
<line x1="63.80" y1="408.30" x2="83.00" y2="408.30" stroke="#333" stroke-width="1.1" />
<line x1="63.80" y1="406.10" x2="63.80" y2="410.50" stroke="#333" stroke-width="1.0" />
<line x1="83.00" y1="406.10" x2="83.00" y2="410.50" stroke="#333" stroke-width="1.0" />
<text x="73.40" y="407.40"  font-size="7.3" text-anchor="middle" fill="#2a2a2a"  font-weight="bold" stroke="#2a2a2a" stroke-width="0.3">*</text>
<line x1="63.80" y1="448.21" x2="63.80" y2="416.53" stroke="#584a50" stroke-width="1.25" />
<line x1="62.10" y1="448.21" x2="65.50" y2="448.21" stroke="#584a50" stroke-width="1.25" />
<line x1="62.10" y1="416.53" x2="65.50" y2="416.53" stroke="#584a50" stroke-width="1.25" />
<line x1="84.60" y1="475.81" x2="84.60" y2="469.54" stroke="#4a504a" stroke-width="1.25" />
<line x1="82.90" y1="475.81" x2="86.30" y2="475.81" stroke="#4a504a" stroke-width="1.25" />
<line x1="82.90" y1="469.54" x2="86.30" y2="469.54" stroke="#4a504a" stroke-width="1.25" />
<line x1="105.60" y1="471.73" x2="105.60" y2="426.25" stroke="#4e4e56" stroke-width="1.25" />
<line x1="103.90" y1="471.73" x2="107.30" y2="471.73" stroke="#4e4e56" stroke-width="1.25" />
<line x1="103.90" y1="426.25" x2="107.30" y2="426.25" stroke="#4e4e56" stroke-width="1.25" />
<path d="M63.80,432.53 L84.60,472.68 L105.60,449.15" fill="none" stroke="#1e1e1e" stroke-width="1.1"/>
<circle cx="63.80" cy="432.53" r="1.95" fill="#80183a" stroke="#3c0c1c" stroke-width="1.2"/>
<circle cx="84.60" cy="472.68" r="1.95" fill="#558645" stroke="#1c321a" stroke-width="1.2"/>
<circle cx="105.60" cy="449.15" r="1.95" fill="#bcbccc" stroke="#262636" stroke-width="1.2"/>
<rect x="191.90" y="443.67" width="18.90" height="52.63" fill="#afd2f0"/>
<rect x="221.80" y="479.31" width="18.20" height="16.99" fill="#f9c88e"/>
<line x1="201.30" y1="453.82" x2="201.30" y2="432.58" stroke="#7ab8e4" stroke-width="1.0" />
<line x1="196.80" y1="453.82" x2="205.80" y2="453.82" stroke="#7ab8e4" stroke-width="1.0" />
<line x1="196.80" y1="432.58" x2="205.80" y2="432.58" stroke="#7ab8e4" stroke-width="1.0" />
<line x1="231.00" y1="482.61" x2="231.00" y2="476.00" stroke="#f4b260" stroke-width="1.0" />
<line x1="226.50" y1="482.61" x2="235.50" y2="482.61" stroke="#f4b260" stroke-width="1.0" />
<line x1="226.50" y1="476.00" x2="235.50" y2="476.00" stroke="#f4b260" stroke-width="1.0" />
<line x1="178.80" y1="496.30" x2="182.00" y2="496.30" stroke="#1e1e1e" stroke-width="1.1" />
<text transform="translate(175.50,498.25) scale(0.80,1)" font-size="7.9" text-anchor="end" fill="#333333" stroke="#333" stroke-width="0.08">0</text>
<line x1="178.80" y1="472.70" x2="182.00" y2="472.70" stroke="#1e1e1e" stroke-width="1.1" />
<text transform="translate(175.50,474.65) scale(0.80,1)" font-size="7.9" text-anchor="end" fill="#333333" stroke="#333" stroke-width="0.08">10</text>
<line x1="178.80" y1="449.10" x2="182.00" y2="449.10" stroke="#1e1e1e" stroke-width="1.1" />
<text transform="translate(175.50,451.05) scale(0.80,1)" font-size="7.9" text-anchor="end" fill="#333333" stroke="#333" stroke-width="0.08">20</text>
<line x1="178.80" y1="425.50" x2="182.00" y2="425.50" stroke="#1e1e1e" stroke-width="1.1" />
<text transform="translate(175.50,427.45) scale(0.80,1)" font-size="7.9" text-anchor="end" fill="#333333" stroke="#333" stroke-width="0.08">30</text>
<line x1="178.80" y1="401.90" x2="182.00" y2="401.90" stroke="#1e1e1e" stroke-width="1.1" />
<text transform="translate(175.50,403.85) scale(0.80,1)" font-size="7.9" text-anchor="end" fill="#333333" stroke="#333" stroke-width="0.08">40</text>
<line x1="182.00" y1="398.00" x2="182.00" y2="496.90" stroke="#1e1e1e" stroke-width="1.45" />
<line x1="181.40" y1="496.30" x2="252.00" y2="496.30" stroke="#1e1e1e" stroke-width="1.45" />
<line x1="201.30" y1="496.30" x2="201.30" y2="499.50" stroke="#1e1e1e" stroke-width="1.0" />
<line x1="231.00" y1="496.30" x2="231.00" y2="499.50" stroke="#1e1e1e" stroke-width="1.0" />
<text transform="translate(163.20,446.80) rotate(-90) scale(0.8301,1)" font-size="8.4" text-anchor="middle" fill="#333333" stroke="#333" stroke-width="0.22">%pS6<tspan dy="-2.8" font-size="5.4">+</tspan><tspan dy="2.8"> (CD4<tspan dy="-2.8" font-size="5.4">+</tspan><tspan dy="2.8"> T cells)</tspan></tspan></text>
<text transform="translate(203.20,507.50) rotate(-45) scale(0.823,1)" font-size="8.0" text-anchor="end" fill="#333333" stroke="#333" stroke-width="0.08">Dose Level 1</text>
<text transform="translate(232.90,507.50) rotate(-45) scale(0.765,1)" font-size="8.0" text-anchor="end" fill="#333333" stroke="#333" stroke-width="0.08">Phase II</text>
<line x1="199.40" y1="399.20" x2="228.70" y2="399.20" stroke="#333" stroke-width="1.1" />
<line x1="199.40" y1="397.00" x2="199.40" y2="401.40" stroke="#333" stroke-width="1.0" />
<line x1="228.70" y1="397.00" x2="228.70" y2="401.40" stroke="#333" stroke-width="1.0" />
<text x="214.05" y="398.30"  font-size="7.3" text-anchor="middle" fill="#2a2a2a"  font-weight="bold" stroke="#2a2a2a" stroke-width="0.3">***</text>
<circle cx="201.30" cy="406.62" r="1.85" fill="#5aa2bd" stroke="#14303c" stroke-width="1.4"/>
<circle cx="201.30" cy="425.50" r="1.85" fill="#5aa2bd" stroke="#14303c" stroke-width="1.4"/>
<circle cx="197.50" cy="442.02" r="1.85" fill="#5aa2bd" stroke="#14303c" stroke-width="1.4"/>
<circle cx="205.10" cy="442.02" r="1.85" fill="#5aa2bd" stroke="#14303c" stroke-width="1.4"/>
<circle cx="201.30" cy="467.98" r="1.85" fill="#5aa2bd" stroke="#14303c" stroke-width="1.4"/>
<circle cx="201.30" cy="475.06" r="1.85" fill="#5aa2bd" stroke="#14303c" stroke-width="1.4"/>
<circle cx="231.00" cy="443.20" r="1.85" fill="#e6ac3c" stroke="#35200a" stroke-width="1.35"/>
<circle cx="231.00" cy="449.81" r="1.85" fill="#e6ac3c" stroke="#35200a" stroke-width="1.35"/>
<circle cx="231.00" cy="461.14" r="1.85" fill="#e6ac3c" stroke="#35200a" stroke-width="1.35"/>
<circle cx="233.70" cy="465.62" r="1.85" fill="#e6ac3c" stroke="#35200a" stroke-width="1.35"/>
<circle cx="225.50" cy="469.40" r="1.85" fill="#e6ac3c" stroke="#35200a" stroke-width="1.35"/>
<circle cx="231.00" cy="468.92" r="1.85" fill="#e6ac3c" stroke="#35200a" stroke-width="1.35"/>
<circle cx="236.50" cy="472.94" r="1.85" fill="#e6ac3c" stroke="#35200a" stroke-width="1.35"/>
<circle cx="233.50" cy="472.23" r="1.85" fill="#e6ac3c" stroke="#35200a" stroke-width="1.35"/>
<circle cx="225.50" cy="474.12" r="1.85" fill="#e6ac3c" stroke="#35200a" stroke-width="1.35"/>
<circle cx="228.50" cy="475.77" r="1.85" fill="#e6ac3c" stroke="#35200a" stroke-width="1.35"/>
<circle cx="233.50" cy="476.95" r="1.85" fill="#e6ac3c" stroke="#35200a" stroke-width="1.35"/>
<circle cx="228.50" cy="482.85" r="1.85" fill="#e6ac3c" stroke="#35200a" stroke-width="1.35"/>
<circle cx="233.50" cy="482.85" r="1.85" fill="#e6ac3c" stroke="#35200a" stroke-width="1.35"/>
<circle cx="222.90" cy="485.92" r="1.85" fill="#e6ac3c" stroke="#35200a" stroke-width="1.35"/>
<circle cx="226.00" cy="486.86" r="1.85" fill="#e6ac3c" stroke="#35200a" stroke-width="1.35"/>
<circle cx="231.00" cy="486.39" r="1.85" fill="#e6ac3c" stroke="#35200a" stroke-width="1.35"/>
<circle cx="236.00" cy="487.33" r="1.85" fill="#e6ac3c" stroke="#35200a" stroke-width="1.35"/>
<circle cx="238.70" cy="486.39" r="1.85" fill="#e6ac3c" stroke="#35200a" stroke-width="1.35"/>
<circle cx="228.20" cy="489.69" r="1.85" fill="#e6ac3c" stroke="#35200a" stroke-width="1.35"/>
<circle cx="233.20" cy="489.22" r="1.85" fill="#e6ac3c" stroke="#35200a" stroke-width="1.35"/>
<circle cx="225.50" cy="493.47" r="1.85" fill="#e6ac3c" stroke="#35200a" stroke-width="1.35"/>
<circle cx="231.00" cy="492.29" r="1.85" fill="#e6ac3c" stroke="#35200a" stroke-width="1.35"/>
<circle cx="236.00" cy="493.94" r="1.85" fill="#e6ac3c" stroke="#35200a" stroke-width="1.35"/>
<circle cx="228.50" cy="492.76" r="1.85" fill="#e6ac3c" stroke="#35200a" stroke-width="1.35"/>
<circle cx="233.50" cy="492.76" r="1.85" fill="#e6ac3c" stroke="#35200a" stroke-width="1.35"/>
<circle cx="230.00" cy="480.96" r="1.85" fill="#e6ac3c" stroke="#35200a" stroke-width="1.35"/>
<circle cx="228.50" cy="486.86" r="1.85" fill="#e6ac3c" stroke="#35200a" stroke-width="1.35"/>
<line x1="307.80" y1="496.30" x2="311.00" y2="496.30" stroke="#1e1e1e" stroke-width="1.1" />
<text transform="translate(304.50,498.25) scale(0.80,1)" font-size="7.9" text-anchor="end" fill="#333333" stroke="#333" stroke-width="0.08">0</text>
<line x1="307.80" y1="477.54" x2="311.00" y2="477.54" stroke="#1e1e1e" stroke-width="1.1" />
<text transform="translate(304.50,479.49) scale(0.80,1)" font-size="7.9" text-anchor="end" fill="#333333" stroke="#333" stroke-width="0.08">20</text>
<line x1="307.80" y1="458.78" x2="311.00" y2="458.78" stroke="#1e1e1e" stroke-width="1.1" />
<text transform="translate(304.50,460.73) scale(0.80,1)" font-size="7.9" text-anchor="end" fill="#333333" stroke="#333" stroke-width="0.08">40</text>
<line x1="307.80" y1="440.02" x2="311.00" y2="440.02" stroke="#1e1e1e" stroke-width="1.1" />
<text transform="translate(304.50,441.97) scale(0.80,1)" font-size="7.9" text-anchor="end" fill="#333333" stroke="#333" stroke-width="0.08">60</text>
<line x1="307.80" y1="421.26" x2="311.00" y2="421.26" stroke="#1e1e1e" stroke-width="1.1" />
<text transform="translate(304.50,423.21) scale(0.80,1)" font-size="7.9" text-anchor="end" fill="#333333" stroke="#333" stroke-width="0.08">80</text>
<line x1="307.80" y1="402.50" x2="311.00" y2="402.50" stroke="#1e1e1e" stroke-width="1.1" />
<text transform="translate(304.50,404.45) scale(0.80,1)" font-size="7.9" text-anchor="end" fill="#333333" stroke="#333" stroke-width="0.08">100</text>
<line x1="311.00" y1="398.70" x2="311.00" y2="496.90" stroke="#1e1e1e" stroke-width="1.45" />
<line x1="310.40" y1="496.30" x2="381.00" y2="496.30" stroke="#1e1e1e" stroke-width="1.45" />
<line x1="325.00" y1="496.30" x2="325.00" y2="499.50" stroke="#1e1e1e" stroke-width="1.0" />
<line x1="346.20" y1="496.30" x2="346.20" y2="499.50" stroke="#1e1e1e" stroke-width="1.0" />
<line x1="366.80" y1="496.30" x2="366.80" y2="499.50" stroke="#1e1e1e" stroke-width="1.0" />
<text transform="translate(290.20,449.70) rotate(-90) scale(0.9089,1)" font-size="8.4" text-anchor="middle" fill="#333333" stroke="#333" stroke-width="0.22">%pH3ser10<tspan dy="-2.8" font-size="5.4">+</tspan><tspan dy="2.8"> (CD4<tspan dy="-2.8" font-size="5.4">+</tspan><tspan dy="2.8"> T cells)</tspan></tspan></text>
<text transform="translate(326.60,508.30) rotate(-45) scale(0.840,1)" font-size="8.0" text-anchor="end" fill="#333333" stroke="#333" stroke-width="0.08">Pre-transplant</text>
<text transform="translate(348.10,507.30) rotate(-45) scale(0.862,1)" font-size="8.0" text-anchor="end" fill="#333333" stroke="#333" stroke-width="0.08">Day +21</text>
<text transform="translate(368.70,507.30) rotate(-45) scale(0.820,1)" font-size="8.0" text-anchor="end" fill="#333333" stroke="#333" stroke-width="0.08">Day +100</text>
<line x1="325.20" y1="440.96" x2="325.20" y2="431.11" stroke="#584a50" stroke-width="1.25" />
<line x1="323.50" y1="440.96" x2="326.90" y2="440.96" stroke="#584a50" stroke-width="1.25" />
<line x1="323.50" y1="431.11" x2="326.90" y2="431.11" stroke="#584a50" stroke-width="1.25" />
<line x1="346.00" y1="432.99" x2="346.00" y2="425.95" stroke="#4a504a" stroke-width="1.25" />
<line x1="344.30" y1="432.99" x2="347.70" y2="432.99" stroke="#4a504a" stroke-width="1.25" />
<line x1="344.30" y1="425.95" x2="347.70" y2="425.95" stroke="#4a504a" stroke-width="1.25" />
<line x1="367.10" y1="442.37" x2="367.10" y2="424.07" stroke="#4e4e56" stroke-width="1.25" />
<line x1="365.40" y1="442.37" x2="368.80" y2="442.37" stroke="#4e4e56" stroke-width="1.25" />
<line x1="365.40" y1="424.07" x2="368.80" y2="424.07" stroke="#4e4e56" stroke-width="1.25" />
<path d="M325.20,436.27 L346.00,429.70 L367.10,433.45" fill="none" stroke="#1e1e1e" stroke-width="1.1"/>
<circle cx="325.20" cy="436.27" r="1.95" fill="#80183a" stroke="#3c0c1c" stroke-width="1.2"/>
<circle cx="346.00" cy="429.70" r="1.95" fill="#558645" stroke="#1c321a" stroke-width="1.2"/>
<circle cx="367.10" cy="433.45" r="1.95" fill="#bcbccc" stroke="#262636" stroke-width="1.2"/>
<rect x="453.50" y="403.51" width="18.50" height="92.69" fill="#afd2f0"/>
<rect x="483.00" y="429.39" width="18.60" height="66.81" fill="#f9c88e"/>
<line x1="462.30" y1="404.45" x2="462.30" y2="402.57" stroke="#7ab8e4" stroke-width="1.0" />
<line x1="457.80" y1="404.45" x2="466.80" y2="404.45" stroke="#7ab8e4" stroke-width="1.0" />
<line x1="457.80" y1="402.57" x2="466.80" y2="402.57" stroke="#7ab8e4" stroke-width="1.0" />
<line x1="491.80" y1="433.15" x2="491.80" y2="425.62" stroke="#f4b260" stroke-width="1.0" />
<line x1="487.30" y1="433.15" x2="496.30" y2="433.15" stroke="#f4b260" stroke-width="1.0" />
<line x1="487.30" y1="425.62" x2="496.30" y2="425.62" stroke="#f4b260" stroke-width="1.0" />
<line x1="440.30" y1="496.20" x2="443.50" y2="496.20" stroke="#1e1e1e" stroke-width="1.1" />
<text transform="translate(437.00,498.15) scale(0.80,1)" font-size="7.9" text-anchor="end" fill="#333333" stroke="#333" stroke-width="0.08">0</text>
<line x1="440.30" y1="477.38" x2="443.50" y2="477.38" stroke="#1e1e1e" stroke-width="1.1" />
<text transform="translate(437.00,479.33) scale(0.80,1)" font-size="7.9" text-anchor="end" fill="#333333" stroke="#333" stroke-width="0.08">20</text>
<line x1="440.30" y1="458.56" x2="443.50" y2="458.56" stroke="#1e1e1e" stroke-width="1.1" />
<text transform="translate(437.00,460.51) scale(0.80,1)" font-size="7.9" text-anchor="end" fill="#333333" stroke="#333" stroke-width="0.08">40</text>
<line x1="440.30" y1="439.74" x2="443.50" y2="439.74" stroke="#1e1e1e" stroke-width="1.1" />
<text transform="translate(437.00,441.69) scale(0.80,1)" font-size="7.9" text-anchor="end" fill="#333333" stroke="#333" stroke-width="0.08">60</text>
<line x1="440.30" y1="420.92" x2="443.50" y2="420.92" stroke="#1e1e1e" stroke-width="1.1" />
<text transform="translate(437.00,422.87) scale(0.80,1)" font-size="7.9" text-anchor="end" fill="#333333" stroke="#333" stroke-width="0.08">80</text>
<line x1="440.30" y1="402.10" x2="443.50" y2="402.10" stroke="#1e1e1e" stroke-width="1.1" />
<text transform="translate(437.00,404.05) scale(0.80,1)" font-size="7.9" text-anchor="end" fill="#333333" stroke="#333" stroke-width="0.08">100</text>
<line x1="443.50" y1="398.70" x2="443.50" y2="496.80" stroke="#1e1e1e" stroke-width="1.45" />
<line x1="442.90" y1="496.20" x2="513.00" y2="496.20" stroke="#1e1e1e" stroke-width="1.45" />
<line x1="462.30" y1="496.20" x2="462.30" y2="499.40" stroke="#1e1e1e" stroke-width="1.0" />
<line x1="491.80" y1="496.20" x2="491.80" y2="499.40" stroke="#1e1e1e" stroke-width="1.0" />
<text transform="translate(420.20,449.20) rotate(-90) scale(0.8990,1)" font-size="8.4" text-anchor="middle" fill="#333333" stroke="#333" stroke-width="0.22">%pH3ser10<tspan dy="-2.8" font-size="5.4">+</tspan><tspan dy="2.8"> (CD4<tspan dy="-2.8" font-size="5.4">+</tspan><tspan dy="2.8"> T cells)</tspan></tspan></text>
<text transform="translate(464.20,507.50) rotate(-45) scale(0.780,1)" font-size="8.0" text-anchor="end" fill="#333333" stroke="#333" stroke-width="0.08">Dose Level 1</text>
<text transform="translate(493.70,507.50) rotate(-45) scale(0.765,1)" font-size="8.0" text-anchor="end" fill="#333333" stroke="#333" stroke-width="0.08">Phase II</text>
<line x1="460.40" y1="395.60" x2="489.80" y2="395.60" stroke="#333" stroke-width="1.1" />
<line x1="460.40" y1="393.40" x2="460.40" y2="397.80" stroke="#333" stroke-width="1.0" />
<line x1="489.80" y1="393.40" x2="489.80" y2="397.80" stroke="#333" stroke-width="1.0" />
<text x="475.10" y="394.00"  font-size="7.3" text-anchor="middle" fill="#2a2a2a"  font-weight="bold" stroke="#2a2a2a" stroke-width="0.3">****</text>
<circle cx="454.20" cy="405.30" r="1.85" fill="#5aa2bd" stroke="#14303c" stroke-width="1.4"/>
<circle cx="457.50" cy="402.29" r="1.85" fill="#5aa2bd" stroke="#14303c" stroke-width="1.4"/>
<circle cx="461.30" cy="402.29" r="1.85" fill="#5aa2bd" stroke="#14303c" stroke-width="1.4"/>
<circle cx="464.60" cy="402.57" r="1.85" fill="#5aa2bd" stroke="#14303c" stroke-width="1.4"/>
<circle cx="467.00" cy="405.49" r="1.85" fill="#5aa2bd" stroke="#14303c" stroke-width="1.4"/>
<circle cx="471.10" cy="402.48" r="1.85" fill="#5aa2bd" stroke="#14303c" stroke-width="1.4"/>
<circle cx="484.30" cy="404.92" r="1.85" fill="#e6ac3c" stroke="#35200a" stroke-width="1.35"/>
<circle cx="496.30" cy="404.92" r="1.85" fill="#e6ac3c" stroke="#35200a" stroke-width="1.35"/>
<circle cx="499.80" cy="404.92" r="1.85" fill="#e6ac3c" stroke="#35200a" stroke-width="1.35"/>
<circle cx="487.80" cy="406.81" r="1.85" fill="#e6ac3c" stroke="#35200a" stroke-width="1.35"/>
<circle cx="492.30" cy="406.81" r="1.85" fill="#e6ac3c" stroke="#35200a" stroke-width="1.35"/>
<circle cx="495.80" cy="408.69" r="1.85" fill="#e6ac3c" stroke="#35200a" stroke-width="1.35"/>
<circle cx="484.30" cy="415.27" r="1.85" fill="#e6ac3c" stroke="#35200a" stroke-width="1.35"/>
<circle cx="484.30" cy="419.04" r="1.85" fill="#e6ac3c" stroke="#35200a" stroke-width="1.35"/>
<circle cx="491.80" cy="416.22" r="1.85" fill="#e6ac3c" stroke="#35200a" stroke-width="1.35"/>
<circle cx="495.80" cy="416.22" r="1.85" fill="#e6ac3c" stroke="#35200a" stroke-width="1.35"/>
<circle cx="491.80" cy="420.92" r="1.85" fill="#e6ac3c" stroke="#35200a" stroke-width="1.35"/>
<circle cx="499.80" cy="419.98" r="1.85" fill="#e6ac3c" stroke="#35200a" stroke-width="1.35"/>
<circle cx="488.30" cy="428.45" r="1.85" fill="#e6ac3c" stroke="#35200a" stroke-width="1.35"/>
<circle cx="491.80" cy="430.33" r="1.85" fill="#e6ac3c" stroke="#35200a" stroke-width="1.35"/>
<circle cx="495.80" cy="429.39" r="1.85" fill="#e6ac3c" stroke="#35200a" stroke-width="1.35"/>
<circle cx="488.30" cy="435.98" r="1.85" fill="#e6ac3c" stroke="#35200a" stroke-width="1.35"/>
<circle cx="483.80" cy="439.74" r="1.85" fill="#e6ac3c" stroke="#35200a" stroke-width="1.35"/>
<circle cx="487.30" cy="440.68" r="1.85" fill="#e6ac3c" stroke="#35200a" stroke-width="1.35"/>
<circle cx="491.80" cy="439.74" r="1.85" fill="#e6ac3c" stroke="#35200a" stroke-width="1.35"/>
<circle cx="495.80" cy="438.80" r="1.85" fill="#e6ac3c" stroke="#35200a" stroke-width="1.35"/>
<circle cx="499.80" cy="440.68" r="1.85" fill="#e6ac3c" stroke="#35200a" stroke-width="1.35"/>
<circle cx="488.80" cy="449.15" r="1.85" fill="#e6ac3c" stroke="#35200a" stroke-width="1.35"/>
<circle cx="493.30" cy="450.09" r="1.85" fill="#e6ac3c" stroke="#35200a" stroke-width="1.35"/>
<circle cx="491.80" cy="454.80" r="1.85" fill="#e6ac3c" stroke="#35200a" stroke-width="1.35"/>
<circle cx="494.80" cy="456.68" r="1.85" fill="#e6ac3c" stroke="#35200a" stroke-width="1.35"/>
<circle cx="491.80" cy="469.85" r="1.85" fill="#e6ac3c" stroke="#35200a" stroke-width="1.35"/>
</svg></body></html>
